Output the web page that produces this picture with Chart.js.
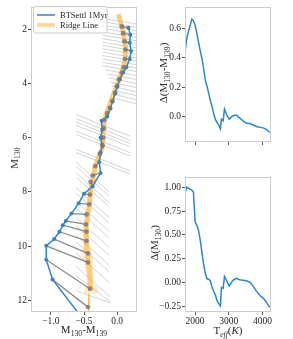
<!DOCTYPE html>
<html><head><meta charset="utf-8">
<script src="https://cdn.jsdelivr.net/npm/chart.js@4.4.0/dist/chart.umd.min.js"></script>
<style>
html,body{margin:0;padding:0;background:#fff;width:293px;height:339px;overflow:hidden;position:relative}
canvas{position:absolute}
#c1{left:0;top:0}
#c2{left:150px;top:0}
#c3{left:150px;top:170px}
</style></head><body>
<canvas id="c1" width="150" height="339" style="width:150px;height:339px"></canvas>
<canvas id="c2" width="143" height="170" style="width:143px;height:170px"></canvas>
<canvas id="c3" width="143" height="169" style="width:143px;height:169px"></canvas>
<script>
// ---------------- data ----------------
// isochrone (BTSettl 1Myr): colour M130-M139 and magnitude M130
const isoColor = [0.17, 0.20, 0.19, 0.21, 0.19, 0.14, 0.09, 0.04, 0.00, -0.03, -0.07, -0.10, -0.15, -0.235, -0.225, -0.25, -0.225, -0.25, -0.27, -0.25, -0.37, -0.50, -0.58, -0.69, -0.775, -0.82, -0.87, -0.95, -1.07, -1.07, -0.975, -0.53];
const isoMag   = [1.95, 2.2, 2.5, 2.8, 3.1, 3.4, 3.6, 3.85, 4.12, 4.37, 4.67, 4.92, 5.22, 5.38, 5.71, 6.0, 6.26, 6.55, 6.9, 7.3, 7.79, 8.07, 8.42, 8.8, 9.07, 9.23, 9.47, 9.74, 9.99, 10.5, 11.23, 12.65];
// positions of the isochrone points moved onto the ridge
const projColor = [0.07, 0.09, 0.11, 0.125, 0.12, 0.10, 0.07, 0.03, 0.0, -0.03, -0.07, -0.11, -0.15, -0.19, -0.20, -0.21, -0.22, -0.26, -0.33, -0.37, -0.40, -0.41, -0.42, -0.46, -0.47, -0.46, -0.46, -0.44, -0.44, -0.41, -0.44];
const projMag   = [1.9, 2.15, 2.45, 2.75, 3.1, 3.4, 3.6, 3.85, 4.1, 4.35, 4.65, 4.9, 5.1, 5.35, 5.65, 6.0, 6.3, 6.6, 7.05, 7.4, 7.63, 8.1, 8.46, 8.83, 9.2, 9.47, 9.81, 10.27, 10.6, 11.57, 12.25];
// ridge line
const ridgeColor = [0.02, 0.06, 0.09, 0.12, 0.13, 0.12, 0.07, 0.0, -0.08, -0.15, -0.2, -0.21, -0.225, -0.28, -0.33, -0.37, -0.40, -0.42, -0.45, -0.47, -0.47, -0.45, -0.42, -0.40, -0.40];
const ridgeMag   = [1.45, 1.8, 2.1, 2.5, 2.8, 3.2, 3.58, 4.06, 4.55, 5.04, 5.4, 5.9, 6.38, 6.7, 7.05, 7.6, 7.97, 8.46, 8.95, 9.2, 9.8, 10.29, 10.9, 11.4, 11.65];
// ridge uncertainty band
const bandMag = [1.45, 2.1, 2.8, 3.58, 4.55, 5.4, 6.38, 7.05, 7.97, 8.95, 9.5, 10.0, 10.3, 10.6, 10.9, 11.45, 11.5, 11.75];
const bandLo  = [-0.01, 0.06, 0.10, 0.04, -0.11, -0.23, -0.255, -0.36, -0.43, -0.48, -0.51, -0.51, -0.53, -0.51, -0.47, -0.45, -0.50, -0.50];
const bandHi  = [0.05, 0.12, 0.16, 0.10, -0.05, -0.17, -0.195, -0.30, -0.37, -0.42, -0.43, -0.41, -0.38, -0.36, -0.36, -0.35, -0.30, -0.30];
const tailColor = [-0.43, -0.43];
const tailMag   = [11.75, 12.6];
// thin guide lines (start and end)
const guideX1 = [-0.22,-0.22,-0.22,-0.22,-0.22,-0.22,-0.22,-0.22,-0.22,-0.22,-0.22,-0.22,-0.22,-0.22,-0.22,-0.18,-0.15,-0.12,-0.10,-0.08,-0.06,-0.05,-0.05,
                 -0.62,-0.62,-0.62,-0.62,-0.62,-0.62,-0.62,-0.62,
                 -0.62,-0.62,-0.62,-0.62,-0.62,-0.62,-0.62,-0.62,-0.62,-0.62,-0.62,-0.62,-0.62,-0.62,-0.62,-0.62];
const guideY1 = [1.6,1.72,1.85,1.97,2.1,2.22,2.35,2.48,2.6,2.72,2.85,2.97,3.1,3.22,3.35,3.5,3.65,3.8,3.95,4.1,4.25,4.4,4.55,
                 5.15,5.3,5.42,5.54,5.76,5.88,6.43,6.55,
                 6.9,7.05,7.3,7.45,7.85,8.05,8.35,8.6,8.95,9.25,9.6,9.85,10.25,10.75,11.1,11.64];
const guideX2 = [0.32,0.32,0.32,0.32,0.32,0.32,0.32,0.32,0.32,0.32,0.32,0.32,0.32,0.32,0.32,0.32,0.32,0.32,0.32,0.32,0.32,0.32,0.32,
                 0.2,0.2,0.2,0.2,0.2,0.2,0.2,0.2,
                 -0.12,-0.12,-0.12,-0.12,-0.12,-0.12,-0.12,-0.12,-0.12,-0.12,-0.12,-0.12,-0.12,-0.12,-0.1,-0.1];
const guideY2 = [1.82,1.94,2.07,2.19,2.32,2.44,2.57,2.7,2.82,2.94,3.07,3.19,3.32,3.44,3.57,3.72,3.87,4.02,4.17,4.32,4.47,4.62,4.77,
                 5.95,6.1,6.22,6.34,6.56,6.68,7.23,7.35,
                 8.0,8.15,8.4,8.55,8.95,9.15,9.45,9.7,10.05,10.35,10.7,10.95,11.35,11.85,12.05,12.1];
// right panels
const teff   = [1700,1750,1800,1850,1900,1950,2000,2050,2100,2150,2200,2250,2300,2350,2400,2450,2500,2550,2600,2650,2700,2750,2780,2830,2870,2930,3010,3120,3220,3320,3420,3520,3640,3740,3840,3940,4040,4120,4210];
const dColor = [0.44,0.53,0.58,0.62,0.665,0.655,0.625,0.57,0.51,0.45,0.40,0.33,0.25,0.21,0.16,0.11,0.07,0.02,-0.02,-0.04,-0.06,-0.085,-0.02,-0.03,0.05,0.015,-0.02,0.005,0.01,-0.01,-0.03,-0.045,-0.05,-0.06,-0.07,-0.075,-0.08,-0.09,-0.11];
const dMag   = [0.94,1.0,0.99,0.98,0.97,0.95,0.64,0.6,0.55,0.45,0.32,0.2,0.1,0.04,0.035,0.02,-0.045,-0.09,-0.13,-0.19,-0.22,-0.245,-0.05,-0.06,0.065,0.025,-0.035,0.025,0.045,0.03,0.025,0.02,0.0,-0.05,-0.1,-0.14,-0.17,-0.21,-0.26];
// ticks
const leftXTicks = [-1.0, -0.5, 0.0];
const leftXTickLabels = ['\u22121.0', '\u22120.5', '0.0'];
const leftYTicks = [2, 4, 6, 8, 10, 12];
const leftYTickLabels = ['2', '4', '6', '8', '10', '12'];
const teffTicks = [2000, 3000, 4000];
const teffTickLabels = ['2000', '3000', '4000'];
const dColorTicks = [0.0, 0.2, 0.4, 0.6];
const dColorTickLabels = ['0.0', '0.2', '0.4', '0.6'];
const dMagTicks = [-0.25, 0.0, 0.25, 0.5, 0.75, 1.0];
const dMagTickLabels = ['\u22120.25', '0.00', '0.25', '0.50', '0.75', '1.00'];
const legendLabels = ['BTSettl 1Myr', 'Ridge Line'];

// ---------------- helpers ----------------
const FONT = '"Liberation Serif", "Times New Roman", serif';
const TXT = '#262626';
const BLUE = '#2e86c7';
const pts = (xs, ys) => xs.map((x, i) => ({x: x, y: ys[i]}));
const segs = (x1, y1, x2, y2) => {
  const out = [];
  x1.forEach((v, i) => { out.push({x: v, y: y1[i]}, {x: x2[i], y: y2[i]}, {x: null, y: null}); });
  return out;
};
function drawRich(ctx, parts, x, y, rot, size) {
  ctx.save();
  ctx.translate(x, y);
  ctx.rotate(rot);
  const fonts = parts.map(p => ((p[1] & 2) ? 'italic ' : '') + ((p[1] & 1) ? size * 0.7 : size) + 'px ' + FONT);
  let w = 0;
  parts.forEach((p, i) => { ctx.font = fonts[i]; w += ctx.measureText(p[0]).width; });
  let cx = -w / 2;
  ctx.fillStyle = TXT; ctx.textAlign = 'left'; ctx.textBaseline = 'alphabetic';
  parts.forEach((p, i) => {
    ctx.font = fonts[i];
    ctx.fillText(p[0], cx, (p[1] & 1) ? size * 0.24 : 0);
    cx += ctx.measureText(p[0]).width;
  });
  ctx.restore();
}
const framePlugin = {
  id: 'frame',
  afterDatasetsDraw(chart) {
    const a = chart.chartArea, ctx = chart.ctx;
    ctx.save(); ctx.strokeStyle = '#cccccc'; ctx.lineWidth = 1;
    ctx.strokeRect(Math.round(a.left) + 0.5, Math.round(a.top) + 0.5, Math.round(a.right - a.left) - 1, Math.round(a.bottom - a.top) - 1);
    ctx.restore();
  }
};
function titlesPlugin(items) {
  return { id: 'titles', afterDraw(chart) { items.forEach(it => drawRich(chart.ctx, it.parts, it.x, it.y, it.rot, it.size)); } };
}
function axis(min, max, ticks, labels, opts) {
  return Object.assign({
    type: 'linear', min: min, max: max,
    afterBuildTicks: s => { s.ticks = ticks.map(v => ({value: v})); },
    ticks: { callback: (v) => { const i = ticks.indexOf(v); return i >= 0 ? labels[i] : ''; }, font: {family: FONT, size: 9.5}, color: TXT, padding: 1, maxRotation: 0, autoSkip: false },
    grid: { display: true, drawOnChartArea: false, drawTicks: true, tickLength: 3, tickColor: '#555555' },
    border: { display: false }
  }, opts || {});
}
Chart.defaults.animation = false;
Chart.defaults.responsive = false;
Chart.defaults.plugins.legend.display = false;
Chart.defaults.plugins.tooltip.enabled = false;

// ---------------- left panel ----------------
const legendPlugin = {
  id: 'leg',
  afterDraw(chart) {
    const ctx = chart.ctx;
    ctx.save();
    ctx.beginPath();
    ctx.roundRect ? ctx.roundRect(33.5, 6.5, 73.5, 26.5, 2) : ctx.rect(33.5, 6.5, 73.5, 26.5);
    ctx.fillStyle = 'rgba(255,255,255,0.85)'; ctx.fill();
    ctx.strokeStyle = '#cccccc'; ctx.lineWidth = 1; ctx.stroke();
    ctx.lineCap = 'butt';
    ctx.beginPath(); ctx.moveTo(37, 15); ctx.lineTo(55, 15); ctx.strokeStyle = BLUE; ctx.lineWidth = 1.5; ctx.stroke();
    ctx.beginPath(); ctx.moveTo(37, 25); ctx.lineTo(55, 25); ctx.strokeStyle = 'rgba(255,165,0,0.4)'; ctx.lineWidth = 4; ctx.stroke();
    ctx.fillStyle = TXT; ctx.font = '8.5px ' + FONT; ctx.textBaseline = 'alphabetic'; ctx.textAlign = 'left';
    ctx.fillText(legendLabels[0], 60, 18);
    ctx.fillText(legendLabels[1], 60, 28);
    ctx.restore();
  }
};
new Chart(document.getElementById('c1'), {
  type: 'scatter',
  data: { datasets: [
    { label: 'guides', data: segs(guideX1, guideY1, guideX2, guideY2), showLine: true, spanGaps: false, borderColor: 'rgba(90,90,90,0.45)', borderWidth: 0.6, pointRadius: 0, order: 7, clip: 0 },
    { label: 'band', data: pts(bandLo, bandMag).concat(pts(bandHi, bandMag).reverse()), showLine: true, fill: 'shape', backgroundColor: 'rgba(255,180,60,0.28)', borderWidth: 0, borderColor: 'rgba(0,0,0,0)', pointRadius: 0, order: 6, clip: 0 },
    { label: 'tail', data: pts(tailColor, tailMag), showLine: true, borderColor: 'rgba(255,170,40,0.5)', borderWidth: 1, pointRadius: 0, order: 5, clip: 0 },
    { label: legendLabels[1], data: pts(ridgeColor, ridgeMag), showLine: true, borderColor: 'rgba(255,170,40,0.5)', borderWidth: 5, pointRadius: 0, order: 5, clip: 0 },
    { label: legendLabels[0], data: pts(isoColor, isoMag), showLine: true, borderColor: BLUE, borderWidth: 1.5, pointRadius: 2, pointBackgroundColor: BLUE, pointBorderWidth: 0, order: 4, clip: 0 },
    { label: 'shift', data: segs(isoColor.slice(0, projColor.length), isoMag.slice(0, projMag.length), projColor, projMag), showLine: true, spanGaps: false, borderColor: 'rgba(120,120,120,0.85)', borderWidth: 1.3, pointRadius: 0, order: 3, clip: 0 },
    { label: 'proj', data: pts(projColor, projMag), showLine: false, pointRadius: 2.4, pointBackgroundColor: 'rgba(120,120,120,0.8)', pointBorderWidth: 0, order: 2, clip: 0 }
  ]},
  options: {
    layout: { padding: { top: 4, right: 13, left: 0, bottom: 0 } },
    scales: {
      x: axis(-1.3, 0.3, leftXTicks, leftXTickLabels, { afterFit: s => { s.height = 27; } }),
      y: axis(1.17, 12.43, leftYTicks, leftYTickLabels, { reverse: true, afterFit: s => { s.width = 31; } })
    }
  },
  plugins: [framePlugin, legendPlugin, titlesPlugin([
    { parts: [['M', 0], ['130', 1]], x: 17.5, y: 158, rot: -Math.PI / 2, size: 11 },
    { parts: [['M', 0], ['130', 1], ['-M', 0], ['139', 1]], x: 84, y: 333, rot: 0, size: 11 }
  ])]
});

// ---------------- right top ----------------
new Chart(document.getElementById('c2'), {
  type: 'scatter',
  data: { datasets: [
    { label: 'dcolor', data: pts(teff, dColor), showLine: true, borderColor: BLUE, borderWidth: 1.5, pointRadius: 0, clip: 0 }
  ]},
  options: {
    layout: { padding: { top: 4, right: 22, left: 0, bottom: 0 } },
    scales: {
      x: axis(1700, 4250, teffTicks, teffTickLabels, { ticks: { display: false }, afterFit: s => { s.height = 28; } }),
      y: axis(-0.175, 0.751, dColorTicks, dColorTickLabels, { afterFit: s => { s.width = 35; } })
    }
  },
  plugins: [framePlugin, titlesPlugin([
    { parts: [['\u0394(M', 0], ['130', 1], ['-M', 0], ['139', 1], [')', 0]], x: 17, y: 73, rot: -Math.PI / 2, size: 11 }
  ])]
});

// ---------------- right bottom ----------------
new Chart(document.getElementById('c3'), {
  type: 'scatter',
  data: { datasets: [
    { label: 'dmag', data: pts(teff, dMag), showLine: true, borderColor: BLUE, borderWidth: 1.5, pointRadius: 0, clip: 0 }
  ]},
  options: {
    layout: { padding: { top: 4, right: 22, left: 0, bottom: 0 } },
    scales: {
      x: axis(1700, 4250, teffTicks, teffTickLabels, { afterFit: s => { s.height = 27; } }),
      y: axis(-0.308, 1.11, dMagTicks, dMagTickLabels, { afterFit: s => { s.width = 35; } })
    }
  },
  plugins: [framePlugin, titlesPlugin([
    { parts: [['\u0394(M', 0], ['130', 1], [')', 0]], x: 8, y: 73, rot: -Math.PI / 2, size: 11 },
    { parts: [['T', 0], ['eff', 3], ['(', 0], ['K', 2], [')', 0]], x: 78, y: 164, rot: 0, size: 11 }
  ])]
});
</script>
</body></html>
